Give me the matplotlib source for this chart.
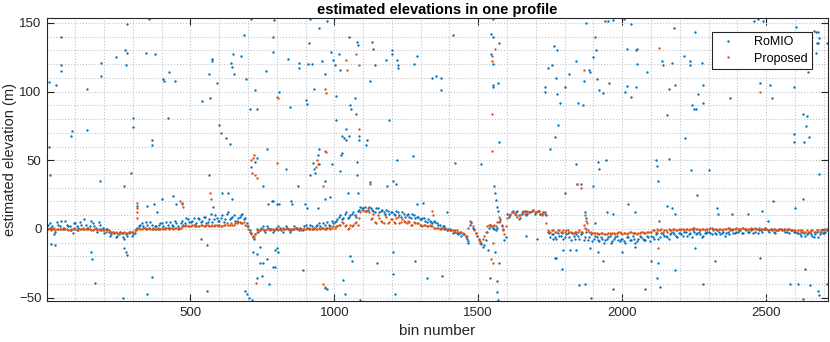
import numpy as np
import matplotlib
matplotlib.use("Agg")
import matplotlib.pyplot as plt
from matplotlib.ticker import MultipleLocator

plt.rcParams['font.family'] = ['Liberation Sans', 'DejaVu Sans']

# band values, two readings every 10 bins (offsets 0 and 5)
band_step = 10
proposed_band = [
    0, 1, 0, -1, 0, 0, 1, 0, -1, 0,
    0, -1, 0, 0, 1, 0, -1, 0, 0, -1,
    -1, -1, -2, -2, -2, -3, -3, -2, -3, -2,
    -2, -1, 1, 0, 1, 0, 0, 1, 0, 0,
    1, 0, 1, 1, 0, 1, 0, 2, 2, 2,
    2, 3, 2, 2, 3, 2, 3, 2, 2, 3,
    3, 2, 3, 3, 4, 3, 4, 5, 4, 3,
    0, -4, -6, -2, -1, 0, -1, 0, 0, -1,
    0, 0, 1, 0, -1, 0, 0, 1, 0, 0,
    0, 1, 0, 1, 0, 0, 1, 0, 1, 1,
    1, 2, 3, 4, 3, 1, 2, 4, 3, 12,
    14, 13, 12, 8, 5, 10, 6, 4, 9, 5,
    7, 4, 9, 5, 6, 4, 5, 3, 4, 4,
    3, 3, 2, 3, 2, 1, 1, 0, 0, 0,
    -1, -1, -1, -2, -2, -4, -5, 6, 2, -3,
    -8, -10, -5, 2, 3, 2, 2, 9, 3, -4,
    8, 11, 12, 10, 7, 12, 11, 13, 12, 14,
    12, 13, 10, 11, -1, -2, -1, -2, -1, -2,
    -2, -1, -2, -3, -2, -1, -2, 1, -1, -2,
    -3, -3, -4, -3, -4, -3, -4, -3, -3, -2,
    -4, -3, -3, -2, -3, -4, -3, -2, -3, -2,
    -2, -1, 0, -1, -2, -1, 0, -1, 0, -1,
    -1, 0, 0, -1, 0, 1, 0, -1, 0, 0,
    0, 1, 0, -1, 0, 0, 0, 1, 0, 0,
    0, 0, 1, 0, 0, 0, 1, 0, 0, 0,
    0, -1, 0, 0, -1, 0, 0, -1, 0, -1,
    -1, -1, -2, -2, -1, -2, -1, -2, -1, -1,
    -1, 0,
]
proposed_band_mid = [
    0, -1, 1, 0, 0, 1, 0, -1, 0, 1,
    -1, 0, 1, 0, 0, -1, 0, -1, -1, -1,
    -2, -1, -2, -3, -3, -2, -3, -3, -2, -2,
    -1, 0, 0, 1, 0, 1, 0, 0, 1, 0,
    0, 1, 0, 1, 1, 0, 1, 2, 3, 2,
    3, 2, 2, 3, 2, 3, 2, 3, 3, 2,
    2, 3, 4, 3, 3, 4, 5, 4, 5, 2,
    -2, -5, -4, -1, 0, -1, 0, -1, 0, 0,
    -1, 0, 0, 1, 0, 0, 1, 0, -1, 0,
    1, 0, 0, 0, 1, 1, 0, 1, 0, 2,
    2, 3, 5, 2, 0, 3, 3, 5, 8, 14,
    13, 15, 7, 11, 4, 8, 5, 10, 4, 7,
    5, 8, 4, 7, 5, 6, 3, 5, 4, 3,
    2, 3, 2, 2, 1, 1, 0, 1, 0, -1,
    -1, -2, -1, -2, -3, -5, 1, 4, -1, -5,
    -9, -7, -2, 3, 2, 3, 5, 6, -1, 2,
    10, 12, 11, 9, 10, 13, 12, 12, 13, 12,
    13, 11, 12, 4, -2, -1, -2, -1, -2, -1,
    -1, -2, -3, -2, -2, -2, 3, 0, -2, -3,
    -3, -4, -3, -4, -4, -3, -3, -4, -2, -3,
    -3, -4, -2, -3, -3, -3, -2, -3, -2, -2,
    -1, -2, -1, 0, -1, -2, -1, 0, -1, 0,
    0, -1, 0, 0, 1, 0, 0, 0, -1, 0,
    1, 0, 0, 0, -1, 0, 1, 0, 0, 1,
    0, 1, 0, 0, 1, 0, 0, 1, 0, 0,
    -1, 0, 0, -1, 0, -1, 0, 0, -1, -1,
    -2, -1, -1, -2, -2, -1, -2, -1, -2, -1,
    0,
]
romio_band = [
    1, 4, 2, -2, 3, 6, 0, 3, 2, -3,
    4, 1, 3, 7, 0, 2, 4, 1, 5, 0,
    -3, 0, -5, -2, -6, -4, -3, -7, -5, -2,
    -4, 0, 2, 4, 1, 3, 5, 0, 2, 3,
    4, 1, 3, 5, 2, 4, 1, 6, 4, 7,
    5, 8, 4, 7, 6, 9, 5, 11, 7, 8,
    6, 10, 7, 12, 8, 10, 6, 9, 11, 8,
    2, -3, -7, 0, -1, 2, -2, 1, 0, -1,
    0, 1, -2, 2, 0, -1, 2, 0, 1, -1,
    3, 0, 2, 1, 3, 2, 4, 1, 3, 6,
    5, 7, 10, 8, 12, 9, 11, 10, 13, 16,
    15, 13, 16, 14, 12, 15, 13, 12, 14, 11,
    12, 10, 12, 9, 11, 10, 9, 11, 8, 9,
    7, 8, 5, 6, 4, 5, 3, 1, 2, -1,
    0, -3, -2, -4, -5, -4, -7, 3, 1, -3,
    -7, -11, -12, -2, 3, 1, -1, 5, 2, -8,
    11, 10, 13, 12, 10, 11, 13, 11, 12, 14,
    12, 13, 11, 12, -2, -6, -4, -7, -5, -3,
    -6, -3, -8, -5, -4, -7, -3, -6, -8, -4,
    -7, -6, -9, -7, -8, -6, -10, -7, -5, -9,
    -7, -10, -6, -8, -7, -9, -5, -7, -8, -6,
    -5, -7, -3, -6, -4, -5, -7, -3, -4, -6,
    -3, -5, -2, -4, -6, -2, -3, -4, -5, -3,
    -2, -4, -3, -1, -4, -2, -3, -4, -1, -3,
    -2, -1, -3, -1, -2, 0, -2, -3, -1, 0,
    0, -2, -1, -3, -1, 0, -1, -2, -3, -1,
    -2, -3, -5, -3, -4, -2, -5, -4, -6, -2,
    -3, -1,
]
romio_band_mid = [
    3, 1, -4, 5, 2, 0, 6, 2, -1, 4,
    2, 5, 0, 3, 1, 6, 2, -2, 3, 1,
    0, -2, -4, -3, -5, -2, -6, -4, -3, -5,
    -3, 1, 3, 2, 5, 1, 3, 2, 0, 4,
    2, 5, 1, 3, 6, 2, 4, 3, 8, 5,
    6, 3, 8, 5, 9, 4, 7, 5, 10, 6,
    8, 5, 11, 7, 9, 6, 8, 10, 7, 4,
    -1, -6, -4, -2, 1, -1, 2, 0, -2, 1,
    2, -1, 0, 1, -2, 0, 1, -1, 0, 2,
    1, 3, 0, 2, 4, 1, 3, 5, 2, 4,
    6, 9, 7, 11, 8, 10, 12, 9, 14, 15,
    16, 14, 15, 13, 15, 12, 14, 11, 13, 12,
    11, 13, 10, 12, 9, 11, 8, 10, 9, 7,
    8, 6, 7, 5, 6, 4, 3, 2, 1, 0,
    -1, -2, -3, -3, -4, -6, -9, 5, 0, -5,
    -10, -13, -8, 1, 2, 0, 1, 7, 0, -6,
    9, 12, 11, 13, 8, 12, 10, 12, 13, 11,
    13, 11, 12, 10, -3, -4, -6, -3, -5, -7,
    -4, -6, -3, -7, -5, -4, -8, -2, -6, -9,
    -5, -8, -6, -10, -7, -5, -9, -6, -8, -7,
    -9, -6, -8, -5, -10, -7, -6, -8, -5, -9,
    -6, -4, -7, -3, -5, -6, -4, -2, -5, -3,
    -4, -2, -5, -3, -1, -4, -2, -6, -3, -2,
    -3, -1, -4, -2, -3, -5, -2, -1, -3, -2,
    -1, -3, 0, -2, -1, -3, 0, -1, -2, 1,
    -1, 0, -2, -1, 0, -1, -2, 0, -1, -2,
    -3, -4, -2, -5, -3, -4, -6, -2, -4, -3,
    -2,
]

# scattered RoMIO outliers (bin, elevation)
romio_out_bin = [
    10, 52, 35, 49, 49, 10, 87, 90, 142, 142, 191, 191, 243, 274, 281, 281, 278, 302, 302, 347,
    368, 368, 378, 406, 410, 427, 448, 424, 358, 542, 569, 566, 576, 576, 594, 601, 608, 625, 639, 642,
    646, 649, 653, 677, 688, 694, 708, 712, 726, 733, 767, 764, 788, 788, 792, 809, 712, 724, 730,
    840, 847, 878, 878, 903, 906, 913, 917, 948, 910, 924, 931, 958, 969, 976, 990, 997, 1003, 1021, 1017,
    1052, 1080, 1083, 1007, 1056, 1059, 1076, 1073, 1125, 1132, 1135, 1142, 1181, 1201, 1201, 1219, 1222,
    1222, 1278, 1288, 1340, 1354, 1372, 1372, 1413, 1191, 1042, 1028, 1035, 1042, 1052, 1087, 1115, 1111,
    1087, 1007, 1028, 1024, 948, 944, 926, 930, 948, 833, 993, 1080, 1219, 1274, 1420, 1510, 1545, 1552,
    1573, 1545, 1552, 1552, 1552, 1569, 1573, 1552, 1733, 1733, 1743,
    1875, 1941, 1951, 1969, 2007, 2031, 1764, 1774, 1757, 1771, 1774, 1785, 1778, 1767, 1750, 1840, 1840,
    1885, 1889, 1868, 1816, 1802, 1847, 1865, 1906, 1899, 1910, 1913, 1920, 1934, 1955, 1917, 1920, 1944,
    2017, 2010, 2031, 2017, 2049, 2052, 2052, 2049, 2087, 2118, 2122, 2139, 2142, 2174, 2163, 2184, 2181,
    2156, 2163, 2215, 2236, 2236, 2253, 2264, 2281, 2281, 2243, 2250, 2257, 2278, 2219, 2240, 2302, 2375,
    2458, 2472, 2490, 2479, 2514, 2521, 2604, 2597, 2597, 2597, 2632, 2628, 2642, 2639, 2649, 2646, 2667,
    2674, 2681, 2684, 2677, 2681, 2712, 2674,
    14, 187, 271, 295, 17, 31, 156, 160, 170, 271, 278, 281, 368, 351, 267, 566, 611, 632, 646, 559,
    538, 559, 316, 351, 375, 403, 441, 451, 470, 385, 580, 733, 750, 691, 697, 705, 715, 719, 733, 743,
    753, 767, 774, 788, 802, 806, 743, 753, 771, 788, 809,
    917, 934, 969, 1021, 1080, 1125, 1049, 1083, 1205, 1215, 1184, 875, 785, 802, 851, 854, 899, 905,
    944, 969, 986, 1288, 1309, 1392, 1556, 1558, 1562, 1565, 1569, 795, 795, 892, 969, 976, 1031, 1056,
    1063, 1149, 1205, 1205, 1212, 1281, 1323, 1375, 1465, 1535, 1559, 1573, 1542, 1566, 1566, 1569, 1090,
    1038, 1667, 1705,
    1844, 1858, 1802, 1899, 1872, 1875, 1906, 1948, 1969, 2021, 2045, 2125, 2128, 2156, 2174, 2184, 2260,
    2330, 2332, 2382, 2438, 2486, 2507, 2524, 2601, 2628, 2684,
    1760, 1767, 1771, 1795, 1792, 1819, 1840, 1851, 1872, 1889, 1892, 1917, 1934, 1969, 2000, 2045, 2080,
    2101, 2125, 2122, 2132, 2184, 2253, 2281, 2323, 2479, 2583, 2611, 2628, 2635, 2653, 2681, 2684, 2712,
]
romio_out_elev = [
    107, 140, 105, 119, 115, 60, 68, 71, 102, 72, 121, 111, 125, 130, 149, 128, 119, 81, 74, 128,
    65, 61, 127, 109, 108, 114, 108, 81, 153, 93, 95, 113, 124, 122, 106, 76, 70, 66, 62, 121,
    118, 127, 113, 126, 141, 109, 87, 153, 101, 87, 58, 115, 140, 129, 152, 100, 45, 49, 52,
    124, 89, 121, 117, 94, 91, 135, 153, 146, 120, 120, 102, 122, 113, 151, 129, 123, 119, 116, 127,
    140, 136, 134, 97, 90, 87, 84, 95, 108, 136, 131, 119, 123, 130, 127, 123, 119,
    117, 120, 126, 110, 111, 110, 101, 141, 79, 73, 68, 66, 65, 68, 68, 65, 61,
    65, 79, 55, 54, 58, 54, 48, 44, 47, 44, 47, 49, 50, 53, 48, 47, 142, 140,
    135, 127, 120, 105, 103, 106, 63, 153, 103, 100, 117,
    150, 151, 151, 152, 153, 149, 133, 130, 119, 110, 98, 92, 76, 67, 58, 47, 122,
    116, 114, 108, 113, 103, 92, 90, 140, 125, 130, 109, 101, 99, 106, 49, 44, 50,
    104, 100, 96, 131, 130, 131, 120, 103, 114, 50, 46, 122, 119, 121, 102, 105, 146,
    83, 51, 126, 122, 119, 143, 98, 105, 92, 90, 87, 87, 121, 66, 43, 43, 95,
    151, 153, 151, 106, 105, 95, 147, 103, 69, 63, 63, 84, 82, 75, 67, 114, 144,
    143, 143, 139, 135, 135, 135, 128,
    39, 35, 31, 41, -11, -12, -17, -22, -39, -14, -17, -19, -35, -47, -50, 39, 26, 26, 22, -45,
    -7, -12, 17, 17, 18, 22, 24, 18, 19, 12, 16, -36, -34, -45, -47, -50, -52, -17, -18, -25,
    -25, -22, -40, -28, -14, -17, -13, 31, 18, 20, 18,
    39, 41, 35, 42, 39, 34, 26, 26, 35, 33, 31, 31, 20, 18, 20, 18, 18, 15,
    15, 22, 23, 18, 19, 12, 31, 26, 21, 16, 13, -15, -28, -30, -43, -44, -37, -20,
    -23, -25, -17, -33, -47, -23, -36, -34, -10, -15, -17, -25, -36, -38, -46, -52, -52,
    -47, -5, -7,
    33, 33, 26, 31, 12, 8, 4, 12, 11, 18, 12, 35, 6, 17, 15, 11, 25,
    15, 11, 11, 11, 13, 6, 20, 15, 22, 40,
    -7, -21, -21, -15, -29, -15, -15, -41, -40, -14, -50, -17, -23, -44, -17, -13, -44,
    -23, -25, -36, -42, -30, -14, -40, -23, -21, -40, -40, -51, -29, -41, -45, -48, -40,
]

# scattered Proposed outliers
proposed_out_bin = [
    806, 802, 802, 719, 715, 726, 733, 712, 722, 969, 972, 1042, 1045, 1076, 1087, 1087, 969, 972, 940,
    944, 938, 1559, 1549, 1549, 1549, 1547, 1868, 2128, 2479, 316, 316, 316, 316, 465, 470, 476, 569,
    571, 729, 962, 1125, 1340, 1343, 962, 966, 1545, 1552, 1844, 1858, 1872, 1875, 1878, 2125, 1552,
]
proposed_out_elev = [
    95, 96, 48, 52, 41, 39, 37, 50, 54, 102, 99, 123, 116, 127, 119, 73, 57, 56, 50,
    47, 45, 131, 122, 84, 57, 126, 116, 132, 100, 19, 15, 12, 8, 20, 18, 16, 26,
    22, -39, 31, 33, 13, 10, -40, -42, -22, -25, 33, 30, 10, 6, 4, -14, -10,
]

bins_a = np.arange(1, 1 + band_step * len(proposed_band), band_step)
bins_b = bins_a + band_step // 2
romio_x = np.concatenate([bins_a[:len(romio_band)], bins_b[:len(romio_band_mid)], romio_out_bin])
romio_y = np.concatenate([romio_band, romio_band_mid, romio_out_elev])
prop_x = np.concatenate([bins_a, bins_b[:len(proposed_band_mid)], proposed_out_bin])
prop_y = np.concatenate([proposed_band, proposed_band_mid, proposed_out_elev])

fig = plt.figure(figsize=(8.3, 3.42), dpi=100)
ax = fig.add_axes([47 / 830, 41 / 342, 781 / 830, 283 / 342])

ax.plot(romio_x, romio_y, '.', color='#0072BD', ms=3.4, mew=0, label='RoMIO')
ax.plot(prop_x, prop_y, '.', color='#D95319', ms=3.4, mew=0, label='Proposed')

ax.set_xlim(2, 2715)
ax.set_ylim(-52.4, 153.5)
ax.set_xticks([500, 1000, 1500, 2000, 2500])
ax.set_yticks([-50, 0, 50, 100, 150])
ax.xaxis.set_minor_locator(MultipleLocator(100))
ax.yaxis.set_minor_locator(MultipleLocator(10))
ax.grid(True, which='both', linestyle=':', color='#c4c4c4', linewidth=0.8)
ax.tick_params(which='major', direction='in', length=5, top=True, right=True,
               labelsize=9.5, colors='#262626', width=0.8, pad=4)
ax.tick_params(which='minor', length=0)
for s in ax.spines.values():
    s.set_color('#262626')
    s.set_linewidth(0.8)

ax.set_xlabel('bin number', fontsize=11, color='#262626', labelpad=4)
ax.set_ylabel('estimated elevation (m)', fontsize=10.5, color='#262626', va='center')
ax.yaxis.set_label_coords(-0.0475, 0.5)
ax.set_title('estimated elevations in one profile', fontsize=10.5, fontweight='bold', pad=3)

leg = ax.legend(loc='upper right', bbox_to_anchor=(812 / 830, 1 - 32 / 342),
                bbox_transform=fig.transFigure, borderaxespad=0, fancybox=False,
                framealpha=1, edgecolor='#262626', fontsize=9, markerscale=1,
                handlelength=1.8, handletextpad=1.2, borderpad=0.35, labelspacing=0.35)
leg.get_frame().set_linewidth(0.8)

fig.savefig('out.png', dpi=100)
